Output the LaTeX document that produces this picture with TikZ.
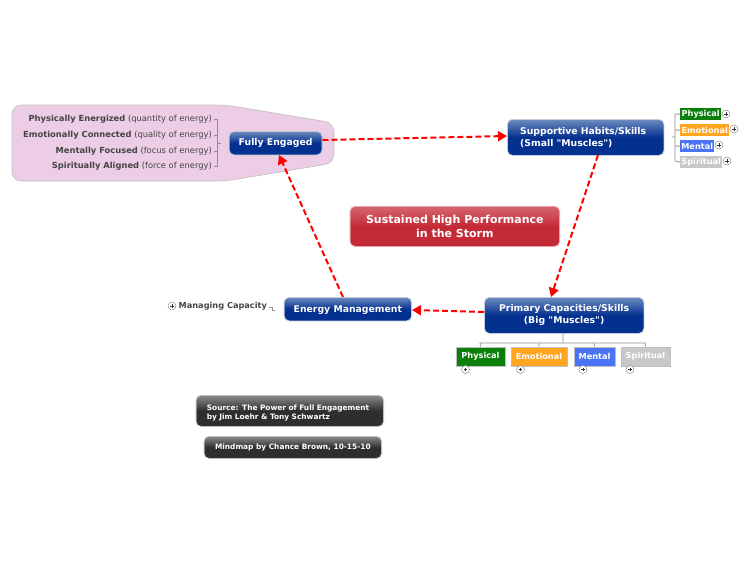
\documentclass[tikz,border=0pt]{standalone}
\usepackage{fontspec}
\setmainfont{DejaVu Sans}
\newfontfamily\plainquote{DejaVu Sans}
\usetikzlibrary{arrows.meta,calc}
\definecolor{blueD}{HTML}{04308F}
\definecolor{blueL}{HTML}{6C8BBE}
\definecolor{redD}{HTML}{C42A36}
\definecolor{redL}{HTML}{D5666E}
\definecolor{grayD}{HTML}{2E2E2E}
\definecolor{grayL}{HTML}{8A8A8A}
\definecolor{pinkF}{HTML}{EDCDE5}
\definecolor{txt}{HTML}{444444}
\definecolor{lnk}{HTML}{8E8E8E}
\definecolor{rim}{HTML}{C4CBD8}
\definecolor{tagG}{HTML}{0A7F0A}
\definecolor{tagO}{HTML}{FFA51E}
\definecolor{tagB}{HTML}{4A74F5}
\definecolor{tagS}{HTML}{C8C8C8}
\pgfdeclareverticalshading{blueGrad}{100bp}{color(0bp)=(blueD);color(50bp)=(blueD);color(75bp)=(blueL);color(100bp)=(blueL)}
\pgfdeclareverticalshading{redGrad}{100bp}{color(0bp)=(redD);color(50bp)=(redD);color(75bp)=(redL);color(100bp)=(redL)}
\pgfdeclareverticalshading{grayGrad}{100bp}{color(0bp)=(grayD);color(50bp)=(grayD);color(75bp)=(grayL);color(100bp)=(grayL)}
\newcommand{\quo}{{\plainquote\char34}}
\tikzset{
  boxbase/.style={rounded corners=5pt,draw=rim,line width=0.8pt,text=white,font=\bfseries,inner sep=0pt,anchor=north west},
  bluebox/.style={boxbase,shading=blueGrad,font=\bfseries\fontsize{9.3}{12}\selectfont},
  redbox/.style={boxbase,shading=redGrad,draw=redL!60!white,font=\bfseries\fontsize{11}{13.5}\selectfont},
  graybox/.style={boxbase,shading=grayGrad,draw=lightgray,font=\bfseries\fontsize{7.4}{9.5}\selectfont},
  tag/.style={anchor=north west,inner sep=0pt,text=white,font=\bfseries\fontsize{8.2}{10}\selectfont},
  lowtag/.style={tag,draw=lightgray,line width=1pt},
  plusnode/.style={circle,draw=lnk,fill=white,line width=0.5pt,minimum size=8pt,inner sep=0pt,
    path picture={\draw[black!80,line width=1pt] ([xshift=-1.8pt]path picture bounding box.center)--([xshift=1.8pt]path picture bounding box.center) ([yshift=-1.8pt]path picture bounding box.center)--([yshift=1.8pt]path picture bounding box.center);}},
  attr/.style={anchor=east,inner sep=0pt,text=txt,font=\fontsize{8.35}{10}\selectfont},
  link/.style={draw=lnk,line width=0.8pt},
  flow/.style={draw=red,line width=2pt,dash pattern=on 6pt off 3pt,-{Triangle[length=9pt,width=10pt]}},
}
\begin{document}
\begin{tikzpicture}[x=1pt,y=-1pt]
\useasboundingbox (0,0) rectangle (750,563);
% callout behind Fully Engaged
\path[fill=pinkF,draw=lightgray,line width=0.6pt,rounded corners=9pt]
  (12,105) -- (226,105) -- (334,123) -- (334,163) -- (226,181) -- (12,181) -- cycle;
% main nodes
\node[bluebox,minimum width=93pt,minimum height=23.5pt] (fe) at (228.7,131) {Fully Engaged};
\node[bluebox,minimum width=156.5pt,minimum height=36pt,align=left,text width=131pt] (sh) at (507,119) {Supportive Habits/Skills\\(Small \quo Muscles\quo)};
\node[bluebox,minimum width=159.5pt,minimum height=36pt,align=center] (pc) at (484,297) {Primary Capacities/Skills\\(Big \quo Muscles\quo)};
\node[bluebox,minimum width=127.5pt,minimum height=23.5pt,text height=9pt,text depth=2pt] (em) at (283.7,297) {Energy Management};
\node[redbox,minimum width=209.5pt,minimum height=40pt,align=center] (core) at (349.7,206) {Sustained High Performance\\in the Storm};
\node[graybox,minimum width=187.5pt,minimum height=31pt,align=left,text width=166pt] (src) at (195.7,395) {\rule{0pt}{10pt}Source: The Power of Full Engagement\\by Jim Loehr \& Tony Schwartz};
\node[graybox,minimum width=177.5pt,minimum height=22pt] (mm) at (203.7,436) {Mindmap by Chance Brown, 10-15-10};
% attribute texts
\node[attr] (a1) at (212,119.6) {\textbf{Physically Energized} (quantity of energy)};
\node[attr] (a2) at (212,135.6) {\textbf{Emotionally Connected} (quality of energy)};
\node[attr] (a3) at (212,151.6) {\textbf{Mentally Focused} (focus of energy)};
\node[attr] (a4) at (212,166.6) {\textbf{Spiritually Aligned} (force of energy)};
\coordinate (br) at (221,143);
\draw[link] ([xshift=2pt]a1.east) -- (217,119.6) -- (217,166.6) -- ([xshift=2pt]a4.east);
\draw[link] ([xshift=2pt]a2.east) -- (217,135.6) ([xshift=2pt]a3.east) -- (217,151.6) (217,143) -- (br);
% small right tags
\node[tag,fill=tagG,minimum width=41pt,minimum height=12pt] (r1) at (680,108) {Physical};
\node[tag,fill=tagO,minimum width=49pt,minimum height=12pt] (r2) at (680,124) {Emotional};
\node[tag,fill=tagB,minimum width=34pt,minimum height=12pt] (r3) at (680,140) {Mental};
\node[tag,fill=tagS,minimum width=42pt,minimum height=12pt] (r4) at (680,156) {Spiritual};
\node[plusnode] (rp1) at (726,114) {};
\node[plusnode] (rp2) at (734,129) {};
\node[plusnode] (rp3) at (719,145) {};
\node[plusnode] (rp4) at (727,161) {};
\coordinate (rj) at (672,137);
\draw[link] (r1.west) -- (675,114) -- (675,161) -- (r4.west);
\draw[link] (r2.west) -- (675,130) (r3.west) -- (675,146) (rj) -- (675,137);
% bottom tags
\node[lowtag,fill=tagG,minimum width=49pt,minimum height=19pt] (b1) at (455.5,346.5) {Physical};
\node[lowtag,fill=tagO,minimum width=56pt,minimum height=19pt] (b2) at (510.5,346.5) {Emotional};
\node[lowtag,fill=tagB,minimum width=41pt,minimum height=19pt] (b3) at (573.5,346.5) {Mental};
\node[lowtag,fill=tagS,minimum width=49pt,minimum height=19pt] (b4) at (620.5,346.5) {Spiritual};
\node[plusnode] (bp1) at (465.5,369.5) {};
\node[plusnode] (bp2) at (520.5,369.5) {};
\node[plusnode] (bp3) at (583,369.5) {};
\node[plusnode] (bp4) at (630,369.5) {};
\draw[link] (b1.north) -- (480,343) -- (645,343) -- (b4.north);
\draw[link] (b2.north) -- (539,343) (b3.north) -- (594,343) (563,333) -- (563,343);
% managing capacity
\node[plusnode] (mp) at (172,306) {};
\node[anchor=west,inner sep=0pt,text=txt,font=\bfseries\fontsize{8.2}{10}\selectfont] (mc) at (178.5,306.6) {Managing Capacity};
\coordinate (mj) at (275,310.5);
\draw[link,line width=0.6pt] (269,307.5) -- (272.5,307.5) -- (272.5,310.5) -- (mj);
% flow arrows
\draw[flow] (fe.east |- 0,140) -- (sh.west |- 0,136);
\draw[flow] (598,155) -- (551,297);
\draw[flow] (pc.west |- 0,312) -- (em.east |- 0,310);
\draw[flow] (343,297) -- (279,155);
\end{tikzpicture}
\end{document}
